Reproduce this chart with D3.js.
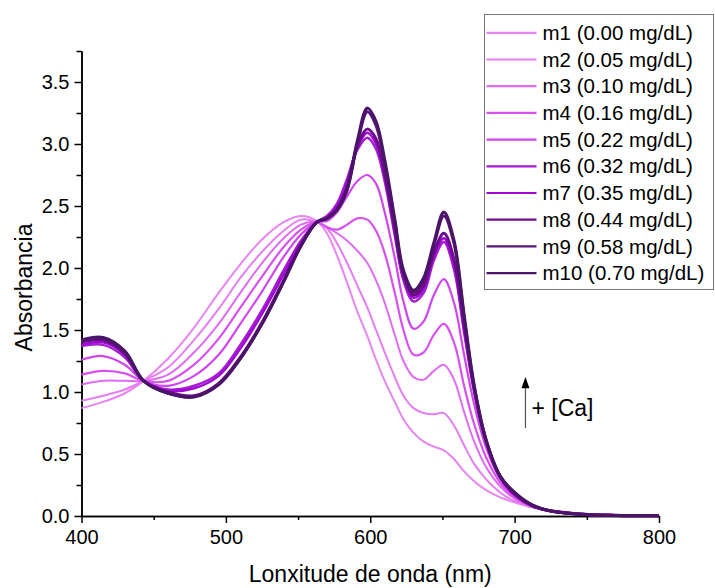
<!DOCTYPE html>
<html>
<head>
<meta charset="utf-8">
<script src="https://cdn.jsdelivr.net/npm/d3@7"></script>
<style>
  body { margin: 0; background: #fff; }
  svg { display: block; font-family: Arial, "Liberation Sans", sans-serif; }
</style>
</head>
<body>
<div id="chart"></div>
<script>
// wavelengths (nm) at which the spectra were read
const wavelength = [400, 415, 430, 443, 460, 478, 495, 510, 525, 540, 552, 563, 570, 577, 584, 591, 598, 604, 610, 617, 623, 630, 637, 644, 651, 658, 665, 672, 680, 690, 700, 712, 725, 745, 770, 800];

// absorbance of each sample
const m1  = [0.87, 0.92, 0.99, 1.09, 1.27, 1.52, 1.80, 2.03, 2.23, 2.37, 2.42, 2.38, 2.28, 2.10, 1.88, 1.65, 1.45, 1.26, 1.09, 0.92, 0.78, 0.67, 0.60, 0.56, 0.53, 0.46, 0.36, 0.28, 0.21, 0.15, 0.11, 0.07, 0.045, 0.02, 0.008, 0.003];
const m2  = [0.93, 0.97, 1.02, 1.09, 1.20, 1.42, 1.67, 1.92, 2.13, 2.30, 2.39, 2.37, 2.32, 2.20, 2.04, 1.86, 1.68, 1.50, 1.32, 1.12, 0.97, 0.87, 0.83, 0.82, 0.83, 0.73, 0.57, 0.42, 0.30, 0.19, 0.12, 0.075, 0.045, 0.02, 0.008, 0.003];
const m3  = [1.06, 1.09, 1.09, 1.09, 1.14, 1.32, 1.55, 1.80, 2.04, 2.24, 2.35, 2.37, 2.33, 2.28, 2.22, 2.14, 2.04, 1.90, 1.72, 1.46, 1.25, 1.12, 1.10, 1.17, 1.22, 1.10, 0.84, 0.60, 0.40, 0.24, 0.14, 0.08, 0.045, 0.02, 0.008, 0.003];
const m4  = [1.14, 1.17, 1.15, 1.09, 1.09, 1.22, 1.43, 1.68, 1.93, 2.17, 2.31, 2.37, 2.33, 2.31, 2.35, 2.40, 2.39, 2.30, 2.12, 1.80, 1.50, 1.30, 1.32, 1.46, 1.55, 1.40, 1.05, 0.74, 0.48, 0.27, 0.15, 0.08, 0.045, 0.02, 0.008, 0.003];
const m5  = [1.26, 1.29, 1.22, 1.09, 1.05, 1.13, 1.30, 1.55, 1.81, 2.09, 2.27, 2.37, 2.38, 2.45, 2.58, 2.70, 2.75, 2.68, 2.45, 2.08, 1.73, 1.51, 1.57, 1.78, 1.91, 1.72, 1.30, 0.90, 0.56, 0.30, 0.16, 0.08, 0.04, 0.016, 0.006, 0.002];
const m6  = [1.37, 1.38, 1.28, 1.09, 1.02, 1.05, 1.15, 1.38, 1.66, 1.98, 2.22, 2.37, 2.42, 2.52, 2.72, 2.95, 3.05, 2.96, 2.70, 2.26, 1.90, 1.73, 1.80, 2.06, 2.21, 1.99, 1.48, 1.00, 0.60, 0.31, 0.17, 0.08, 0.04, 0.015, 0.005, 0.002];
const m7  = [1.38, 1.40, 1.30, 1.09, 1.01, 1.03, 1.13, 1.35, 1.63, 1.95, 2.21, 2.37, 2.41, 2.50, 2.70, 2.97, 3.09, 3.00, 2.73, 2.29, 1.92, 1.76, 1.83, 2.09, 2.24, 2.02, 1.51, 1.01, 0.61, 0.31, 0.17, 0.08, 0.04, 0.015, 0.005, 0.002];
const m8  = [1.40, 1.42, 1.31, 1.09, 1.00, 0.97, 1.07, 1.28, 1.56, 1.90, 2.18, 2.37, 2.40, 2.47, 2.65, 2.98, 3.12, 3.04, 2.76, 2.32, 1.95, 1.78, 1.86, 2.12, 2.28, 2.07, 1.55, 1.03, 0.62, 0.32, 0.18, 0.085, 0.04, 0.015, 0.005, 0.002];
const m9  = [1.41, 1.43, 1.32, 1.09, 0.99, 0.965, 1.06, 1.27, 1.55, 1.89, 2.18, 2.37, 2.40, 2.47, 2.63, 3.00, 3.26, 3.15, 2.84, 2.37, 1.96, 1.80, 1.90, 2.18, 2.42, 2.20, 1.60, 1.04, 0.62, 0.32, 0.18, 0.09, 0.04, 0.015, 0.005, 0.002];
const m10 = [1.42, 1.44, 1.33, 1.09, 0.99, 0.96, 1.06, 1.27, 1.55, 1.89, 2.18, 2.37, 2.40, 2.47, 2.64, 3.02, 3.29, 3.18, 2.87, 2.39, 1.98, 1.82, 1.92, 2.20, 2.45, 2.22, 1.62, 1.05, 0.62, 0.32, 0.19, 0.09, 0.04, 0.015, 0.005, 0.002];

const seriesNames = ["m1 (0.00 mg/dL)", "m2 (0.05 mg/dL)", "m3 (0.10 mg/dL)", "m4 (0.16 mg/dL)", "m5 (0.22 mg/dL)",
                     "m6 (0.32 mg/dL)", "m7 (0.35 mg/dL)", "m8 (0.44 mg/dL)", "m9 (0.58 mg/dL)", "m10 (0.70 mg/dL)"];
const seriesValues = [m1, m2, m3, m4, m5, m6, m7, m8, m9, m10];

const xTicks = [400, 500, 600, 700, 800];
const xMinor = [450, 550, 650, 750];
const yTicks = [0, 0.5, 1, 1.5, 2, 2.5, 3, 3.5];
const yMinor = [0.25, 0.75, 1.25, 1.75, 2.25, 2.75, 3.25, 3.75];

// styling
const colors = ["#e984f4", "#e57ef2", "#df6cf2", "#d850f0", "#d046ee", "#a61ecf", "#a108d6", "#6c0c8c", "#5a1678", "#4a1468"];
const lineWidths = [2, 2, 2, 2.2, 2.2, 2.5, 2.5, 3, 3, 3.2];

const margin = {top: 51, right: 56, bottom: 72, left: 81.5},
    width = 715 - margin.left - margin.right,
    height = 588 - margin.top - margin.bottom;

const svg = d3.select("#chart")
  .append("svg")
    .attr("width", 715)
    .attr("height", 588);

const g = svg.append("g")
    .attr("transform", `translate(${margin.left},${margin.top})`);

const x = d3.scaleLinear().domain([400, 800]).range([0, width]);
const y = d3.scaleLinear().domain([0, 3.75]).range([height, 0]);

// axes (major + minor ticks)
function styleAxis(sel) {
  sel.selectAll("path, line").attr("stroke", "#000").attr("stroke-width", 1.5);
  sel.selectAll("text").attr("fill", "#000").style("font-size", "20px");
}

g.append("g")
    .attr("transform", `translate(0,${height})`)
    .call(d3.axisBottom(x).tickValues(xMinor).tickSize(4).tickSizeOuter(0).tickFormat(""))
    .call(styleAxis);
g.append("g")
    .attr("transform", `translate(0,${height})`)
    .call(d3.axisBottom(x).tickValues(xTicks).tickSize(7).tickSizeOuter(0).tickPadding(7).tickFormat(d3.format("d")))
    .call(styleAxis);

g.append("g")
    .call(d3.axisLeft(y).tickValues(yMinor).tickSize(5).tickSizeOuter(0).tickFormat(""))
    .call(styleAxis);
g.append("g")
    .call(d3.axisLeft(y).tickValues(yTicks).tickSize(7).tickSizeOuter(0).tickPadding(5).tickFormat(d3.format(".1f")))
    .call(styleAxis);

// axis titles
g.append("text")
    .attr("x", width / 2)
    .attr("y", height + 66)
    .attr("text-anchor", "middle")
    .style("font-size", "23px")
    .text("Lonxitude de onda (nm)");

g.append("text")
    .attr("transform", `translate(${-49.5},${height / 2 + 4}) rotate(-90)`)
    .attr("text-anchor", "middle")
    .style("font-size", "23px")
    .text("Absorbancia");

// spectra
const line = d3.line()
    .x((d, i) => x(wavelength[i]))
    .y(d => y(d))
    .curve(d3.curveCatmullRom.alpha(0.5));

g.append("g")
  .selectAll("path")
  .data(seriesValues)
  .join("path")
    .attr("fill", "none")
    .attr("stroke", (d, i) => colors[i])
    .attr("stroke-width", (d, i) => lineWidths[i])
    .attr("stroke-linejoin", "round")
    .attr("d", line);

// arrow annotation
const ax = x(707.5);
g.append("line")
    .attr("x1", ax).attr("x2", ax)
    .attr("y1", y(0.71)).attr("y2", y(1.03))
    .attr("stroke", "#555").attr("stroke-width", 1.2);
g.append("path")
    .attr("d", `M${ax - 4},${y(1.03)} L${ax + 4},${y(1.03)} L${ax},${y(1.12)} Z`)
    .attr("fill", "#000");
g.append("text")
    .attr("x", ax + 6)
    .attr("y", y(0.81))
    .style("font-size", "23px")
    .text("+ [Ca]");

// legend
const legend = svg.append("g").attr("transform", "translate(484.5,14.5)");
legend.append("rect")
    .attr("width", 229)
    .attr("height", 275)
    .attr("fill", "#fff")
    .attr("stroke", "#777")
    .attr("stroke-width", 1);

const item = legend.selectAll("g.item")
  .data(seriesNames)
  .join("g")
    .attr("class", "item")
    .attr("transform", (d, i) => `translate(0,${18.3 + i * 26.7})`);

item.append("line")
    .attr("x1", 2).attr("x2", 52)
    .attr("stroke", (d, i) => colors[i])
    .attr("stroke-width", 2.2);

item.append("text")
    .attr("x", 58)
    .attr("dy", "0.35em")
    .style("font-size", "20.5px")
    .text(d => d);
</script>
</body>
</html>
